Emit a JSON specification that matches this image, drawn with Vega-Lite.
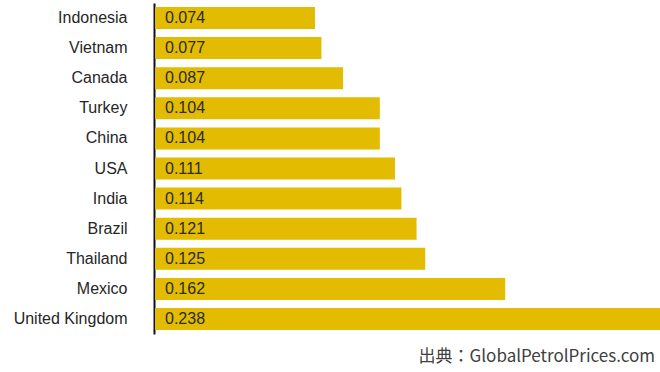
{
  "$schema": "https://vega.github.io/schema/vega-lite/v6.json",
  "autosize": {"type": "none"},
  "width": 505,
  "height": 331,
  "padding": {"left": 155, "top": 3, "right": 0, "bottom": 38},
  "background": "white",
  "title": {
    "text": "出典：GlobalPetrolPrices.com",
    "orient": "bottom",
    "anchor": "end",
    "font": "Noto Sans CJK JP",
    "fontSize": 17,
    "fontWeight": "normal",
    "color": "#404040",
    "offset": 15,
    "dx": -5
  },
  "data": {
    "values": [
      {"country": "Indonesia", "price": 0.074},
      {"country": "Vietnam", "price": 0.077},
      {"country": "Canada", "price": 0.087},
      {"country": "Turkey", "price": 0.104},
      {"country": "China", "price": 0.104},
      {"country": "USA", "price": 0.111},
      {"country": "India", "price": 0.114},
      {"country": "Brazil", "price": 0.121},
      {"country": "Thailand", "price": 0.125},
      {"country": "Mexico", "price": 0.162},
      {"country": "United Kingdom", "price": 0.238}
    ]
  },
  "encoding": {
    "y": {
      "field": "country",
      "type": "nominal",
      "sort": null,
      "scale": {"paddingInner": 0.27, "paddingOuter": 0.133},
      "axis": {
        "title": null,
        "domain": true,
        "domainColor": "#111111",
        "domainWidth": 2,
        "offset": 1,
        "ticks": false,
        "grid": false,
        "labelPadding": 27,
        "labelFont": "Liberation Sans",
        "labelFontSize": 16,
        "labelColor": "#262626",
        "labelFontWeight": "normal"
      }
    }
  },
  "layer": [
    {
      "mark": {"type": "bar", "color": "#E3BB00", "clip": true},
      "encoding": {
        "x": {
          "field": "price",
          "type": "quantitative",
          "scale": {"domain": [0, 0.2336], "nice": false, "zero": true},
          "axis": null
        }
      }
    },
    {
      "mark": {
        "type": "text",
        "align": "left",
        "baseline": "middle",
        "dx": 10,
        "font": "Liberation Sans",
        "fontSize": 16,
        "color": "#2b2b2b"
      },
      "encoding": {
        "x": {"datum": 0, "type": "quantitative"},
        "text": {"field": "price", "type": "quantitative", "format": ".3f"}
      }
    }
  ],
  "config": {"view": {"stroke": null}}
}
